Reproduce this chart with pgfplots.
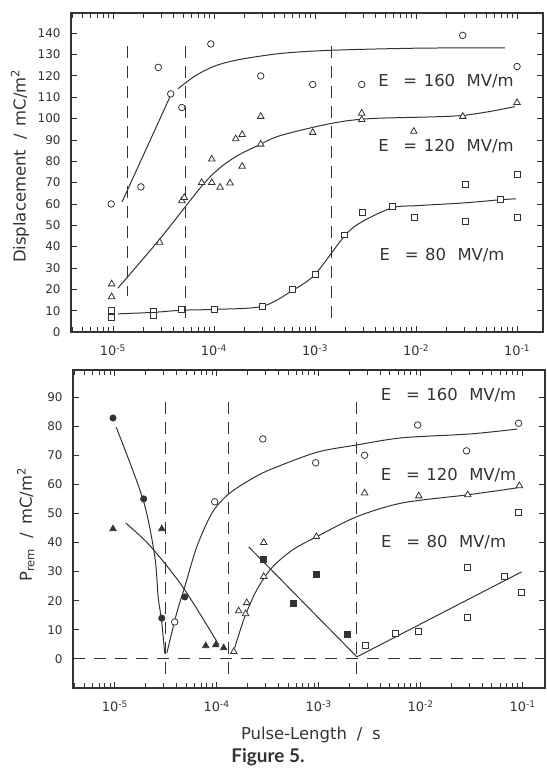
\documentclass[border=0pt]{standalone}
\usepackage{fontspec}
\usepackage{pgfplots}
\pgfplotsset{compat=1.18}
\setmainfont{DejaVu Sans}
\newfontfamily\ff{Lato}
\definecolor{ink}{gray}{0.2}
\newcommand{\lab}{\fontsize{16.5}{19}\selectfont}
\newcommand{\tk}{\fontsize{12}{14}\selectfont}
\newcommand{\tkx}{\fontsize{13}{15}\selectfont}
\tikzset{elab/.style={font=\fontsize{16.5}{19}\selectfont, text=ink, anchor=center}}
\begin{document}
\begin{tikzpicture}
\useasboundingbox (0bp,0bp) rectangle (547bp,769bp);
\pgfplotsset{
  mypanel/.style={
    scale only axis, width=472bp, axis on top,
    /pgf/number format/assume math mode=true,
    axis line style={ink, line width=1.1pt},
    xtick style={draw=ink, line width=0.9pt},
    ytick style={draw=ink, line width=0.9pt},
    tickwidth=6pt, subtickwidth=5pt, tick align=inside,
    xtick={1e-5,1e-4,1e-3,1e-2,1e-1},
    xticklabels={10\textsuperscript{-5},10\textsuperscript{-4},10\textsuperscript{-3},10\textsuperscript{-2},10\textsuperscript{-1}},
    minor xtick={4e-6,5e-6,6e-6,7e-6,8e-6,9e-6,2e-5,3e-5,4e-5,5e-5,6e-5,7e-5,8e-5,9e-5,2e-4,3e-4,4e-4,5e-4,6e-4,7e-4,8e-4,9e-4,2e-3,3e-3,4e-3,5e-3,6e-3,7e-3,8e-3,9e-3,2e-2,3e-2,4e-2,5e-2,6e-2,7e-2,8e-2,9e-2},
    yticklabel style={font=\tk, text=ink, xshift=-7bp},
    xticklabel style={font=\tkx, text=ink, yshift=-9bp},
    label style={font=\lab, text=ink},
  },
  ln/.style={ink, line width=1pt, no markers},
  sm/.style={ink, line width=1pt, no markers, smooth},
  dl/.style={ink, line width=1pt, dash pattern=on 12bp off 8bp, no markers},
  oc/.style={only marks, mark=*, mark size=3.3pt, mark options={draw=ink, fill=white, line width=0.8pt}},
  ot/.style={only marks, mark=triangle*, mark size=3.8pt, mark options={draw=ink, fill=white, line width=0.8pt}},
  os/.style={only marks, mark=square*, mark size=3pt, mark options={draw=ink, fill=white, line width=0.8pt}},
  fc/.style={only marks, mark=*, mark size=3.2pt, mark options={draw=ink, fill=ink, line width=0.6pt}},
  ft/.style={only marks, mark=triangle*, mark size=3.8pt, mark options={draw=ink, fill=ink, line width=0.6pt}},
  fs/.style={only marks, mark=square*, mark size=3pt, mark options={draw=ink, fill=ink, line width=0.6pt}},
}
% ---------------- top panel ----------------
\begin{semilogxaxis}[mypanel, at={(71bp,437bp)}, anchor=south west, height=319bp,
  xmin=3.84e-6, xmax=0.1807, ymin=0, ymax=149.5,
  ytick={0,10,...,140},
  ylabel={Displacement\hspace{0.6em}/\hspace{0.5em}mC/m\textsuperscript{2}},
  ylabel style={at={(axis description cs:-0.108,0.52)}, anchor=center},
]
\addplot[dl] coordinates {(1.4e-5,134) (1.4e-5,17)};
\addplot[dl] coordinates {(5.2e-5,134) (5.2e-5,6.6)};
\addplot[dl] coordinates {(1.47e-3,134) (1.47e-3,6.6)};
\addplot[ln] coordinates {(1.23e-5,61) (3.65e-5,110)};
\addplot[sm] coordinates {(4.4e-5,114) (6.5e-5,120) (1e-4,124.5) (1.7e-4,127.5) (4.5e-4,130.5) (1.4e-3,132) (1e-2,133) (7.6e-2,133.2)};
\addplot[sm] coordinates {(1.12e-5,20.6) (2.9e-5,43.5) (7.6e-5,68.5) (1.15e-4,77) (1.7e-4,82.6) (2.7e-4,87.3) (4.5e-4,92) (1.4e-3,97.6) (3.5e-3,100) (2.75e-2,101.4) (9.5e-2,105.6)};
\addplot[sm] coordinates {(1.12e-5,8.5) (2.5e-5,9.2) (4.8e-5,10.2) (1e-4,10.6) (3e-4,12) (6e-4,19.5) (1e-3,27) (2e-3,45.5) (3e-3,52) (5.9e-3,58.3) (1e-2,59.2) (3e-2,60.5) (6.9e-2,62) (9.8e-2,62.4)};
\addplot[oc] coordinates {(9.6e-6,60) (1.89e-5,68) (2.81e-5,124) (3.73e-5,111.6) (4.8e-5,105.2) (9.3e-5,135) (2.9e-4,120) (9.5e-4,116) (2.9e-3,116) (2.9e-2,139) (0.1,124.4)};
\addplot[ot] coordinates {(9.7e-6,22.5) (9.7e-6,16.5) (2.9e-5,42) (4.8e-5,61.5) (5.08e-5,63) (7.55e-5,70) (9.5e-5,70) (9.5e-5,81) (1.15e-4,67.8) (1.44e-4,69.8) (1.64e-4,90.5) (1.9e-4,92.5) (1.9e-4,77.6) (2.9e-4,88) (2.9e-4,101) (9.5e-4,93.5) (2.9e-3,99.5) (2.9e-3,102.5) (9.5e-3,94) (2.9e-2,101) (0.1,107.5)};
\addplot[os] coordinates {(9.7e-6,10.3) (9.7e-6,7) (2.5e-5,9.8) (2.5e-5,8) (4.8e-5,10.8) (1e-4,10.8) (3e-4,12.2) (6e-4,20) (1e-3,27) (1.94e-3,45.5) (2.95e-3,56) (5.9e-3,58.7) (9.7e-3,53.5) (3.1e-2,52) (3.1e-2,69) (6.9e-2,62) (0.1,53.5) (0.1,73.7)};
\node[elab] at (axis cs:1.98e-2,117.5) {E\hspace{0.9em}=\hspace{0.4em}160\hspace{0.7em}MV/m};
\node[elab] at (axis cs:1.98e-2,87) {E\hspace{0.9em}=\hspace{0.4em}120\hspace{0.7em}MV/m};
\node[elab] at (axis cs:1.81e-2,35.8) {E\hspace{0.9em}=\hspace{0.4em}80\hspace{0.7em}MV/m};
\end{semilogxaxis}
% ---------------- bottom panel ----------------
\begin{semilogxaxis}[mypanel, at={(73bp,81bp)}, anchor=south west, height=318bp,
  xmin=3.89e-6, xmax=0.166, ymin=-10, ymax=99.3,
  ytick={0,10,...,90},
  ylabel={P\textsubscript{rem}\hspace{0.6em}/\hspace{0.5em}mC/m\textsuperscript{2}},
  ylabel style={at={(axis description cs:-0.1,0.513)}, anchor=center},
  xlabel={Pulse-Length\hspace{0.6em}/\hspace{0.6em}s},
  xlabel style={at={(axis description cs:0.504,-0.148)}, anchor=center},
]
\addplot[dl, dash pattern=on 12bp off 9bp] coordinates {(3.9e-6,0) (0.166,0)};
\addplot[dl] coordinates {(3.14e-5,88.3) (3.14e-5,-5.5)};
\addplot[dl] coordinates {(1.3e-4,88.3) (1.3e-4,-5.5)};
\addplot[dl] coordinates {(2.37e-3,88.3) (2.37e-3,-5.5)};
\addplot[sm] coordinates {(1.03e-5,79.7) (1.9e-5,54.6) (2.47e-5,35.1) (2.66e-5,21.4) (2.87e-5,13.4) (3.09e-5,1.9)};
\addplot[sm] coordinates {(3.24e-5,2) (4.05e-5,15.8) (4.85e-5,24.7) (6.37e-5,38.5) (8.93e-5,50) (1.28e-4,56.4) (2.11e-4,61.5) (3.31e-4,65) (9.55e-4,71) (2.34e-3,73.5) (6.6e-3,76) (3.02e-2,77.3) (8.9e-2,79)};
\addplot[sm] coordinates {(1.28e-5,46.7) (2.2e-5,39) (4.65e-5,24.7) (1.05e-4,4.8)};
\addplot[sm] coordinates {(1.5e-4,3.8) (1.88e-4,14.4) (2.47e-4,23.7) (3.46e-4,31.3) (5.56e-4,37.5) (9.1e-4,41.6) (2.34e-3,48.8) (6.6e-3,53.6) (2.9e-2,56.4) (8.9e-2,58.8)};
\addplot[ln] coordinates {(2.06e-4,38.5) (2.37e-3,0.7)};
\addplot[ln] coordinates {(2.37e-3,0.7) (9.77e-2,29.9)};
\addplot[fc] coordinates {(9.6e-6,82.8) (1.92e-5,55) (2.89e-5,14) (4.86e-5,21.3)};
\addplot[ft] coordinates {(9.6e-6,44.7) (2.89e-5,44.7) (7.8e-5,4.5) (9.77e-5,4.8) (1.17e-4,3.8)};
\addplot[fs] coordinates {(2.89e-4,34.4) (5.69e-4,19) (9.55e-4,29.2) (1.92e-3,8.3)};
\addplot[oc] coordinates {(3.87e-5,12.7) (9.55e-5,54) (2.83e-4,75.6) (9.35e-4,67.4) (2.82e-3,70) (9.35e-3,80.4) (2.82e-2,71.5) (9.14e-2,81)};
\addplot[ot] coordinates {(1.47e-4,2.5) (1.64e-4,16.5) (1.92e-4,15.5) (1.97e-4,19.3) (2.89e-4,28.3) (2.89e-4,40) (9.5e-4,42) (2.82e-3,57) (9.6e-3,56) (2.9e-2,56.4) (9.3e-2,59.5)};
\addplot[os] coordinates {(2.9e-3,4.8) (5.7e-3,8.9) (9.5e-3,9.3) (2.9e-2,14.4) (2.9e-2,31.6) (6.6e-2,28.5) (9.8e-2,22.7) (9.1e-2,50.5)};
\node[elab] at (axis cs:1.88e-2,90.7) {E\hspace{0.9em}=\hspace{0.4em}160\hspace{0.7em}MV/m};
\node[elab] at (axis cs:1.88e-2,63.2) {E\hspace{0.9em}=\hspace{0.4em}120\hspace{0.7em}MV/m};
\node[elab] at (axis cs:1.68e-2,40.2) {E\hspace{0.9em}=\hspace{0.4em}80\hspace{0.7em}MV/m};
\end{semilogxaxis}
\node[font=\ff\bfseries\fontsize{19}{22}\selectfont, text=ink] at (268bp,12bp) {Figure 5.};
\end{tikzpicture}
\end{document}
